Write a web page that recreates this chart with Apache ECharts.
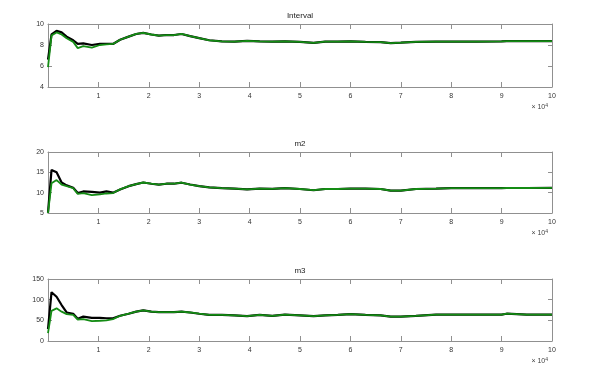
<!DOCTYPE html>
<html><head><meta charset="utf-8">
<script src="https://cdn.jsdelivr.net/npm/echarts@6/dist/echarts.min.js"></script>
<style>html,body{margin:0;padding:0;background:#fff}#c{width:600px;height:365px}</style>
</head><body><div id="c"></div>
<script>
const xs = [0.0, 0.07, 0.17, 0.27, 0.37, 0.5, 0.59, 0.7, 0.87, 1.03, 1.16, 1.29, 1.43, 1.6, 1.75, 1.89, 2.05, 2.2, 2.35, 2.5, 2.65, 2.82, 3.0, 3.2, 3.45, 3.7, 3.95, 4.2, 4.45, 4.7, 5.0, 5.27, 5.5, 5.75, 6.0, 6.3, 6.6, 6.8, 7.0, 7.3, 7.7, 8.0, 8.5, 9.0, 9.1, 9.5, 10.0];
const intervalBlack = [6.6, 9.0, 9.35, 9.2, 8.8, 8.45, 8.1, 8.15, 8.0, 8.1, 8.1, 8.1, 8.5, 8.8, 9.05, 9.15, 9.0, 8.9, 8.95, 8.95, 9.05, 8.85, 8.65, 8.45, 8.35, 8.32, 8.4, 8.35, 8.33, 8.35, 8.3, 8.2, 8.33, 8.33, 8.35, 8.3, 8.28, 8.18, 8.22, 8.3, 8.33, 8.33, 8.33, 8.35, 8.36, 8.36, 8.37];
const intervalGreen = [5.9, 8.9, 9.2, 9.0, 8.65, 8.3, 7.7, 7.9, 7.75, 8.0, 8.05, 8.1, 8.5, 8.8, 9.05, 9.15, 9.0, 8.9, 8.95, 8.95, 9.05, 8.85, 8.65, 8.45, 8.35, 8.32, 8.4, 8.35, 8.33, 8.35, 8.3, 8.2, 8.33, 8.33, 8.35, 8.3, 8.28, 8.18, 8.22, 8.3, 8.33, 8.33, 8.33, 8.35, 8.36, 8.36, 8.37];
const m2Black = [5.1, 15.6, 15.0, 12.5, 11.8, 11.2, 9.9, 10.3, 10.2, 10.0, 10.3, 10.0, 10.8, 11.6, 12.1, 12.5, 12.2, 12.0, 12.2, 12.2, 12.45, 12.0, 11.6, 11.3, 11.1, 11.0, 10.8, 11.0, 10.95, 11.1, 10.9, 10.6, 10.9, 10.9, 11.0, 11.0, 10.9, 10.5, 10.5, 10.9, 11.0, 11.1, 11.1, 11.1, 11.15, 11.15, 11.2];
const m2Green = [5.0, 12.3, 13.1, 12.0, 11.6, 11.1, 9.7, 9.9, 9.4, 9.6, 9.8, 9.9, 10.8, 11.6, 12.1, 12.5, 12.2, 12.0, 12.2, 12.2, 12.45, 12.0, 11.6, 11.3, 11.1, 11.0, 10.8, 11.0, 10.95, 11.1, 10.9, 10.6, 10.9, 10.9, 11.0, 11.0, 10.9, 10.5, 10.5, 10.9, 11.0, 11.1, 11.1, 11.1, 11.15, 11.15, 11.2];
const m3Black = [29, 118, 107, 87, 69, 66, 54, 59, 56, 56, 55, 55, 61, 66, 71, 74, 71, 70, 70, 70, 71, 69, 66, 63, 63, 62, 60, 63, 61, 64, 62, 60, 62, 63, 65, 63, 62, 59, 59, 61, 64, 64, 64, 64, 66, 64, 64];
const m3Green = [19, 73, 79, 71, 65, 63, 52, 53, 48, 49, 50, 53, 61, 66, 71, 74, 71, 70, 70, 70, 71, 69, 66, 63, 63, 62, 60, 63, 61, 64, 62, 60, 62, 63, 65, 63, 62, 59, 59, 61, 64, 64, 64, 64, 66, 64, 64];
const titles = ['Interval', 'm2', 'm3'];
const yRanges = [[4, 10, 2], [5, 20, 5], [0, 150, 50]];
const xRange = [0, 10, 1];

const panels = [[intervalBlack, intervalGreen], [m2Black, m2Green], [m3Black, m3Green]];
const gridPos = [{top: 24, height: 63}, {top: 152, height: 61}, {top: 279, height: 62}];
const axisColor = '#909090';
const labelStyle = {color: '#333', fontSize: 7, fontFamily: 'Liberation Sans, Arial, sans-serif'};

const grid = [], xAxis = [], yAxis = [], series = [], title = [];
gridPos.forEach((g, i) => {
  grid.push({left: 48, right: 48, top: g.top, height: g.height, show: false});
  title.push({text: titles[i], left: 'center', top: g.top - 17,
    textStyle: {fontSize: 8, fontWeight: 'normal', color: '#222', fontFamily: 'Liberation Sans, Arial, sans-serif'}});
  const xBase = {type: 'value', gridIndex: i, min: xRange[0], max: xRange[1], interval: xRange[2],
    splitLine: {show: false}, axisLine: {show: true, onZero: false, lineStyle: {color: axisColor, width: 1}},
    axisTick: {show: true, inside: true, length: 5, lineStyle: {color: axisColor}}};
  xAxis.push(Object.assign({}, xBase, {position: 'bottom',
    axisLabel: {show: true, margin: 6, ...labelStyle, formatter: v => v === 0 ? '' : String(v)}}));
  xAxis.push(Object.assign({}, xBase, {position: 'top', axisLabel: {show: false}}));
  const yr = yRanges[i];
  const yBase = {type: 'value', gridIndex: i, min: yr[0], max: yr[1], interval: yr[2],
    splitLine: {show: false}, axisLine: {show: true, onZero: false, lineStyle: {color: axisColor, width: 1}},
    axisTick: {show: true, inside: true, length: 4, lineStyle: {color: axisColor}}};
  yAxis.push(Object.assign({}, yBase, {position: 'left', axisLabel: {show: true, margin: 4, ...labelStyle}}));
  yAxis.push(Object.assign({}, yBase, {position: 'right', axisLabel: {show: false}}));
  const [blk, grn] = panels[i];
  series.push({type: 'line', xAxisIndex: 2 * i, yAxisIndex: 2 * i, data: xs.map((x, k) => [x, blk[k]]),
    showSymbol: false, lineStyle: {color: '#000', width: 2.2}, z: 2, animation: false});
  series.push({type: 'line', xAxisIndex: 2 * i, yAxisIndex: 2 * i, data: xs.map((x, k) => [x, grn[k]]),
    showSymbol: false, lineStyle: {color: '#148c14', width: 1.8}, z: 3, animation: false});
});

const graphic = gridPos.map(g => ({
  type: 'text', right: 52, top: g.top + g.height + 16,
  style: {text: '× 10{s|4}', fill: '#444', fontSize: 7, fontFamily: 'Liberation Sans, Arial, sans-serif',
    rich: {s: {fontSize: 5, verticalAlign: 'top', padding: [0, 0, 4, 0]}}}
}));

const chart = echarts.init(document.getElementById('c'), null, {renderer: 'canvas'});
chart.setOption({animation: false, backgroundColor: '#fff', title, grid, xAxis, yAxis, series, graphic});
</script></body></html>
